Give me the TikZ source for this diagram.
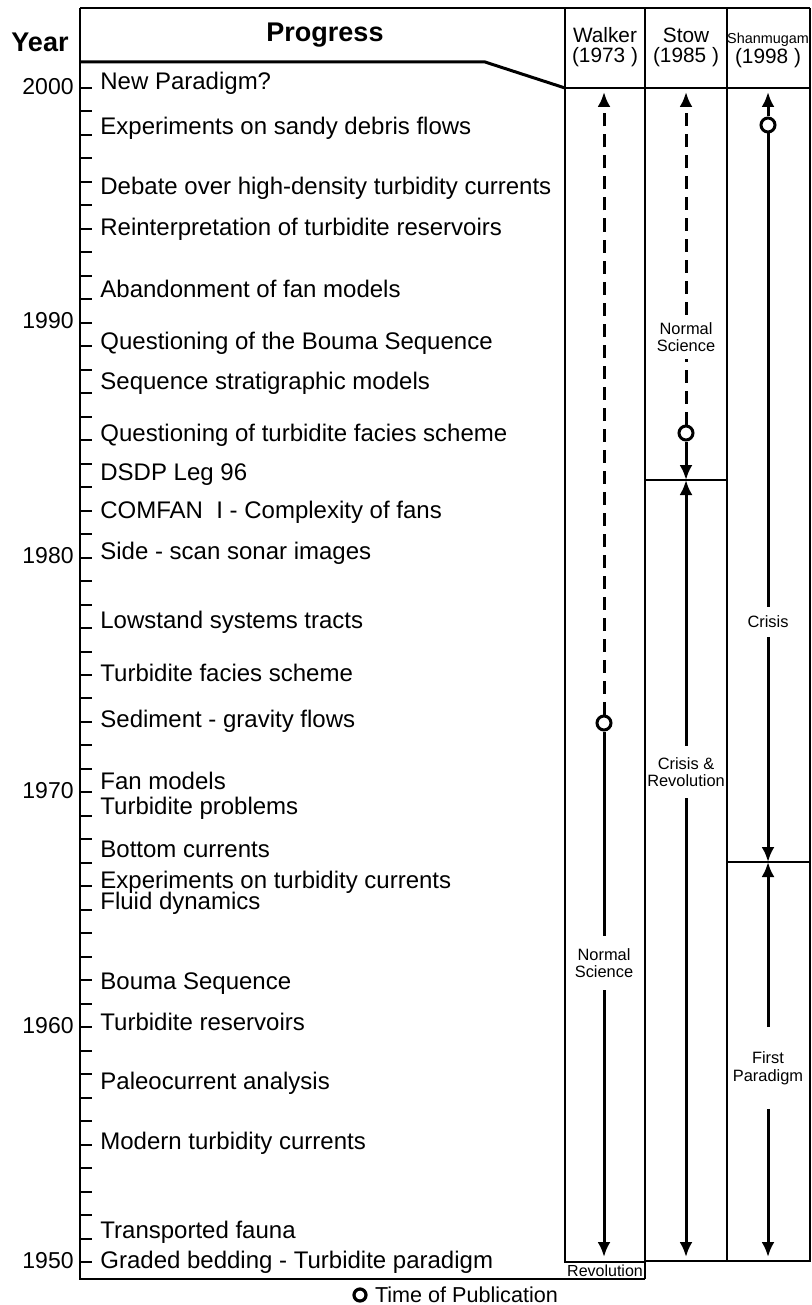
\documentclass[tikz,border=0pt]{standalone}
\usepackage{fontspec}
\setmainfont{Liberation Sans}
\usetikzlibrary{positioning, arrows.meta}

\begin{document}
\begin{tikzpicture}[
  x=0.5pt, y=-0.5pt,
  >={Latex[length=7.5pt,width=6.5pt]},
  event/.style={anchor=west, inner sep=0pt, font=\fontsize{12}{13}\selectfont, text height=8.6pt, text depth=2.3pt},
  yearlbl/.style={anchor=east, inner sep=0pt, font=\fontsize{11.5}{13}\selectfont, text height=8.3pt, text depth=2.2pt},
  hdbold/.style={font=\bfseries\fontsize{13.5}{15}\selectfont, inner sep=0pt},
  head/.style={align=center, inner sep=0pt, font=\fontsize{10.4}{10}\selectfont},
  phase/.style={align=center, inner xsep=0pt, inner ysep=5pt, font=\fontsize{8.2}{8.8}\selectfont},
  pub/.style={circle, draw, line width=1.5pt, fill=white, minimum size=7pt, inner sep=0pt},
  shaft/.style={line width=1.5pt},
  dshaft/.style={shaft, dash pattern=on 6.5pt off 4pt},
  rule/.style={line width=0.6pt}
]
  \useasboundingbox (0,0) rectangle (812,1305);

  % frame and header
  \draw[line width=0.8pt] (80,8) -- (810,8);
  \draw[line width=1pt] (80,8) -- (80,1279) -- (645,1279);
  \node[hdbold] (yearhd) at (40,42) {Year};
  \node[hdbold] (proghd) at (325,35) {Progress};
  \draw[line width=1.5pt] (80,62) -- (485,62) -- (565,88);

  % columns
  \draw[rule] (565,8) -- (565,1262) -- (645,1262);
  \draw[rule] (645,8) -- (645,1279);
  \draw[rule] (727,8) -- (727,1261);
  \draw[rule] (810,8) -- (810,1261) -- (645,1261);
  \draw[line width=1pt] (565,88) -- (810,88);
  \draw[rule] (645,480) -- (727,480);
  \draw[rule] (727,862) -- (810,862);
  \node[inner sep=0pt, font=\fontsize{8}{9}\selectfont] (revol) at (605,1271) {Revolution};

  \node[head] (walker) at (605,47) {Walker\\(1973 )};
  \node[head] (stow) at (686,47) {Stow\\(1985 )};
  \node[head] (shan) at (768,50) {{\fontsize{7.2}{8}\selectfont Shanmugam}\\(1998 )};

  % time axis
  \foreach \yr in {1950,...,2000}
    \draw[line width=1pt] (80,{88+(2000-\yr)*23.48}) -- ++(12,0);
  \foreach \yr in {1950,1960,...,2000}
    \node[yearlbl] (y\yr) at (74,{88+(2000-\yr)*23.48}) {\yr};

  % events
  \foreach \ypos/\txt [count=\i] in {
      83/New Paradigm?,
      128/Experiments on sandy debris flows,
      188/Debate over high-density turbidity currents,
      229/Reinterpretation of turbidite reservoirs,
      291/Abandonment of fan models,
      343/Questioning of the Bouma Sequence,
      383/Sequence stratigraphic models,
      435/Questioning of turbidite facies scheme,
      474/DSDP Leg 96,
      512/COMFAN\ \ I - Complexity of fans,
      553/Side - scan sonar images,
      622/Lowstand systems tracts,
      675/Turbidite facies scheme,
      721/Sediment - gravity flows,
      783/Fan models,
      808/Turbidite problems,
      851/Bottom currents,
      882/Experiments on turbidity currents,
      903/Fluid dynamics,
      983/Bouma Sequence,
      1024/Turbidite reservoirs,
      1083/Paleocurrent analysis,
      1143/Modern turbidity currents,
      1232/Transported fauna,
      1262/Graded bedding - Turbidite paradigm}
    \node[event] (ev\i) at (100,\ypos) {\txt};

  % Walker (1973)
  \coordinate (wtop) at (604,92);
  \coordinate (wbot) at (604,1257);
  \node[pub] (wpub) at (604,723) {};
  \node[phase, inner ysep=6pt] (wphase) at (604,963) {Normal\\Science};
  \draw[dshaft,->] (wpub) -- (wtop);
  \draw[shaft] (wpub) -- (wphase);
  \draw[shaft,->] (wphase) -- (wbot);

  % Stow (1985)
  \coordinate (stop) at (686,92);
  \node[phase, inner ysep=3.5pt] (sns) at (686,337) {Normal\\Science};
  \node[pub] (spub) at (686,433) {};
  \coordinate (smid) at (686,480);
  \node[phase, inner ysep=5.5pt] (scr) at (686,772) {Crisis \&\\Revolution};
  \coordinate (sbot) at (686,1257);
  \draw[dshaft,->] (sns) -- (stop);
  \draw[dshaft] (spub) -- (sns);
  \draw[shaft,->] (spub) -- (smid);
  \draw[shaft,->] (scr) -- (smid);
  \draw[shaft,->] (scr) -- (sbot);

  % Shanmugam (1998)
  \coordinate (htop) at (768,92);
  \node[pub] (hpub) at (768,125) {};
  \node[phase, inner ysep=4.5pt] (hcr) at (768,622) {Crisis};
  \coordinate (hmid) at (768,862);
  \node[phase, inner ysep=12pt] (hfp) at (768,1068) {First\\Paradigm};
  \coordinate (hbot) at (768,1257);
  \draw[shaft,->] (hpub) -- (htop);
  \draw[shaft] (hpub) -- (hcr);
  \draw[shaft,->] (hcr) -- (hmid);
  \draw[shaft,->] (hfp) -- (hmid);
  \draw[shaft,->] (hfp) -- (hbot);

  % legend
  \node[pub, minimum size=6pt, line width=1.6pt] (legpub) at (360,1295) {};
  \node[inner sep=0pt, font=\fontsize{10.8}{12}\selectfont, right=3.5pt of legpub] (legtxt) {Time of Publication};
\end{tikzpicture}
\end{document}
